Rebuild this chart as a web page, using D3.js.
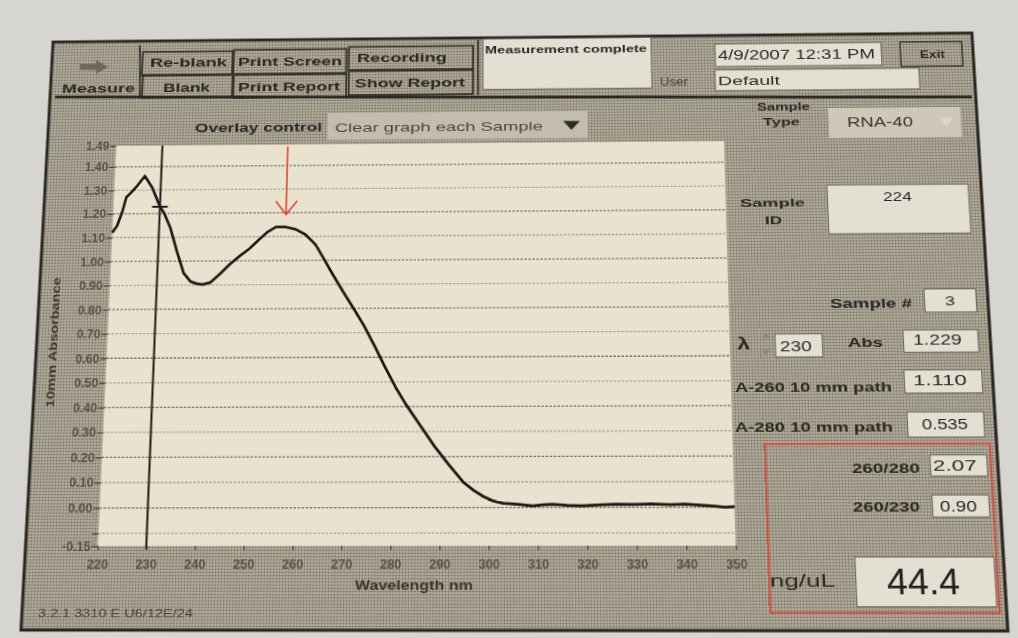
<!DOCTYPE html>
<html>
<head>
<meta charset="utf-8">
<script src="https://cdn.jsdelivr.net/npm/d3@7"></script>
<style>
body { margin: 0; background: #d6d5d0; overflow: hidden; }
svg { position: absolute; left: 0; top: 0; transform-origin: 0 0; }
text { font-family: "Liberation Sans", Arial, sans-serif; }
</style>
</head>
<body>
<script>
var w = 1018;
var h = 638;

// spectrum as drawn on the printout (nm, 10 mm absorbance)
var wavelengths = [220, 221, 222, 222.7, 223.7, 225, 226.5, 228.2, 230, 231,
  232.4, 234, 235.6, 237.1, 238.5, 239.7, 241.3, 243.3, 245.3, 247.4,
  249.4, 251.5, 253.2, 254.9, 257, 259.1, 261.2, 263.4, 264.9, 267.2,
  269.4, 271.7, 273.9, 276.2, 278.4, 280.7, 282.9, 285.9, 288.9, 291.8,
  294.8, 297, 299, 301, 303, 306, 309, 311, 313, 316,
  319, 322, 326, 330, 333, 337, 340, 343, 346, 348, 350];
var absorbance = [1.12, 1.15, 1.21, 1.27, 1.29, 1.32, 1.36, 1.31, 1.23, 1.20,
  1.14, 1.04, 0.95, 0.915, 0.905, 0.902, 0.91, 0.945, 0.985, 1.02,
  1.05, 1.09, 1.12, 1.14, 1.14, 1.13, 1.108, 1.066, 1.017, 0.94,
  0.87, 0.80, 0.73, 0.646, 0.562, 0.478, 0.408, 0.324, 0.240, 0.169,
  0.099, 0.066, 0.042, 0.025, 0.016, 0.012, 0.006, 0.010, 0.012, 0.008,
  0.006, 0.009, 0.012, 0.011, 0.013, 0.010, 0.012, 0.008, 0.004, 0.0, 0.002];

var xTicks = [220, 230, 240, 250, 260, 270, 280, 290, 300, 310, 320, 330, 340, 350];
var yTicks = [1.49, 1.40, 1.30, 1.20, 1.10, 1.00, 0.90, 0.80, 0.70, 0.60, 0.50,
  0.40, 0.30, 0.20, 0.10, 0.00, -0.10, -0.15];
var yTickLabels = ["1.49", "1.40", "1.30", "1.20", "1.10", "1.00", "0.90", "0.80",
  "0.70", "0.60", "0.50", "0.40", "0.30", "0.20", "0.10", "0.00", "", "-0.15"];
var gridValues = [1.40, 1.30, 1.20, 1.10, 1.00, 0.90, 0.80, 0.70, 0.60, 0.50,
  0.40, 0.30, 0.20, 0.10, 0.00, -0.10];

// readouts shown on the screen
var cursorNm = 230;
var cursorAbs = 1.229;
var peakNm = 257;
var sampleId = "224";
var sampleNo = "3";
var a260 = "1.110";
var a280 = "0.535";
var ratio260280 = "2.07";
var ratio260230 = "0.90";
var concentration = "44.4";

// the printout was photographed at an angle: draw it flat, then warp it
// onto the quadrilateral seen in the photo
var flat = [[38, 38], [990, 38], [990, 632], [38, 632]];
var seen = [[53, 42], [972, 33], [1008, 631], [21, 630]];

function solveH(src, dst) {
  var A = [];
  for (var i = 0; i < 4; i++) {
    var x = src[i][0], y = src[i][1], u = dst[i][0], v = dst[i][1];
    A.push([x, y, 1, 0, 0, 0, -u * x, -u * y, u]);
    A.push([0, 0, 0, x, y, 1, -v * x, -v * y, v]);
  }
  for (var c = 0; c < 8; c++) {
    var p = c;
    for (var r = c + 1; r < 8; r++) if (Math.abs(A[r][c]) > Math.abs(A[p][c])) p = r;
    var t = A[c]; A[c] = A[p]; A[p] = t;
    for (var r2 = 0; r2 < 8; r2++) {
      if (r2 == c) continue;
      var f = A[r2][c] / A[c][c];
      for (var k = c; k < 9; k++) A[r2][k] -= f * A[c][k];
    }
  }
  var q = A.map(function(row, i) { return row[8] / row[i]; });
  return [[q[0], q[1], q[2]], [q[3], q[4], q[5]], [q[6], q[7], 1]];
}

var H = solveH(flat, seen);
var Hinv = solveH(seen, flat);

// photo position -> flat drawing position
function U(x, y) {
  var m = Hinv, d = m[2][0] * x + m[2][1] * y + m[2][2];
  return [(m[0][0] * x + m[0][1] * y + m[0][2]) / d, (m[1][0] * x + m[1][1] * y + m[1][2]) / d];
}

var svg = d3.select("body").append("svg")
  .attr("width", w).attr("height", h)
  .style("transform", "matrix3d(" + [H[0][0], H[1][0], 0, H[2][0], H[0][1], H[1][1], 0, H[2][1],
    0, 0, 1, 0, H[0][2], H[1][2], 0, H[2][2]].join(",") + ")");

var defs = svg.append("defs");
var pat = defs.append("pattern").attr("id", "ht")
  .attr("width", 3).attr("height", 3).attr("patternUnits", "userSpaceOnUse");
pat.append("rect").attr("width", 3).attr("height", 3).attr("fill", "#b7b1a1");
pat.append("circle").attr("cx", 1.5).attr("cy", 1.5).attr("r", 1.05).attr("fill", "#767062");

// paper and the screen frame
svg.append("rect").attr("x", -60).attr("y", -60).attr("width", w + 120).attr("height", h + 120)
  .attr("fill", "#d6d5d0");
svg.append("rect").attr("x", 38).attr("y", 38).attr("width", 952).attr("height", 594)
  .attr("fill", "url(#ht)").attr("stroke", "#2a2622").attr("stroke-width", 3);

function box(x0, y0, x1, y1, fill, stroke, sw) {
  var a = U(x0, y0), b = U(x1, y1);
  return svg.append("rect")
    .attr("x", a[0]).attr("y", a[1])
    .attr("width", b[0] - a[0]).attr("height", b[1] - a[1])
    .attr("fill", fill || "none")
    .attr("stroke", stroke || "none")
    .attr("stroke-width", sw || 1);
}

function label(str, x0, x1, y, size, weight, fill) {
  var a = U(x0, y), b = U(x1, y);
  return svg.append("text")
    .attr("x", (a[0] + b[0]) / 2).attr("y", (a[1] + b[1]) / 2)
    .attr("text-anchor", "middle").attr("dominant-baseline", "central")
    .attr("font-size", size).attr("font-weight", weight || "bold")
    .attr("textLength", b[0] - a[0]).attr("lengthAdjust", "spacingAndGlyphs")
    .style("fill", fill || "#2b2824")
    .text(str);
}

function hline(x0, x1, y, stroke, sw) {
  var a = U(x0, y), b = U(x1, y);
  svg.append("line").attr("x1", a[0]).attr("y1", a[1]).attr("x2", b[0]).attr("y2", b[1])
    .attr("stroke", stroke).attr("stroke-width", sw);
}

function vline(x, y0, y1, stroke, sw) {
  var a = U(x, y0), b = U(x, y1);
  svg.append("line").attr("x1", a[0]).attr("y1", a[1]).attr("x2", b[0]).attr("y2", b[1])
    .attr("stroke", stroke).attr("stroke-width", sw);
}

function poly(pts, fill) {
  svg.append("path")
    .attr("d", "M" + pts.map(function(p) { return U(p[0], p[1]).join(","); }).join("L") + "Z")
    .attr("fill", fill);
}

// toolbar
poly([[80, 64], [96, 64], [96, 60], [108, 67], [96, 74], [96, 70], [80, 70]], "#6e685b");
label("Measure", 62, 135, 89, 12);
vline(140, 45, 97, "#3a362f", 2);

var buttons = [
  ["Re-blank", 143, 52, 232, 75, 150, 227, 63],
  ["Blank", 143, 75, 232, 97, 163, 210, 88],
  ["Print Screen", 234, 50, 346, 74, 238, 342, 62],
  ["Print Report", 234, 74, 346, 97, 238, 340, 87],
  ["Recording", 349, 47, 473, 70, 357, 447, 58],
  ["Show Report", 349, 70, 473, 94, 355, 465, 83]
];
buttons.forEach(function(b) {
  box(b[1], b[2], b[3], b[4], "none", "#35312b", 1.8);
  label(b[0], b[5], b[6], b[7], 13);
});
vline(478, 40, 95, "#3a362f", 2);

box(483, 39, 652, 88, "#e3dfd3", "#6a655b", 1);
label("Measurement complete", 485, 647, 49, 11);
box(715, 44, 882, 65, "#e3dfd3", "#6a655b", 1);
label("4/9/2007  12:31 PM", 718, 875, 55, 14, "normal");
box(900, 42, 963, 66, "none", "#3a362f", 1.5);
label("Exit", 920, 945, 55, 10);
label("User", 660, 688, 82, 12, "normal", "#4a463e");
box(715, 70, 920, 89, "#e3dfd3", "#6a655b", 1);
label("Default", 718, 780, 81, 13, "normal");
hline(55, 972, 97, "#2a2622", 3);

// overlay + sample type
label("Overlay control", 195, 322, 128, 12);
box(328, 113, 588, 138, "#c2bdaf");
label("Clear graph each Sample", 335, 543, 127, 13, "normal", "#4d483f");
poly([[563, 121], [580, 121], [571.5, 130]], "#2f2b26");
label("Sample", 757, 810, 107, 10.5);
label("Type", 763, 800, 122, 10.5);
box(828, 108, 962, 137, "#cdc8ba");
label("RNA-40", 847, 913, 122, 14, "normal", "#3a362f");
poly([[940, 118], [953, 118], [946.5, 127]], "#dcd8cc");

// plot area
var pTL = U(112, 146), pTR = U(727, 141), pBL = U(102, 547), pBR = U(733, 545);
var plotLeft = (pTL[0] + pBL[0]) / 2, plotRight = (pTR[0] + pBR[0]) / 2;
var plotTop = (pTL[1] + pTR[1]) / 2, plotBottom = (pBL[1] + pBR[1]) / 2;

var x = d3.scaleLinear().domain([220, 350]).range([plotLeft, plotRight]);
var y = d3.scaleLinear().domain([-0.15, 1.49]).range([plotBottom, plotTop]);

svg.append("rect")
  .attr("x", x(220)).attr("y", y(1.49))
  .attr("width", x(350) - x(220)).attr("height", y(-0.15) - y(1.49))
  .attr("fill", "#e9e2cf");

svg.append("g").selectAll("line")
  .data(gridValues)
  .enter().append("line")
  .attr("x1", x(220)).attr("x2", x(350))
  .attr("y1", function(d) { return y(d); })
  .attr("y2", function(d) { return y(d); })
  .attr("stroke", "#5a554b")
  .attr("stroke-width", 1.3)
  .attr("stroke-dasharray", "2.5,1.5")
  .attr("opacity", function(d, i) { return i % 2 ? 0.45 : 0.8; });

var yAxis = svg.append("g")
  .attr("transform", "translate(" + x(220) + ",0)")
  .call(d3.axisLeft(y).tickValues(yTicks).tickSize(6).tickPadding(1)
    .tickFormat(function(d, i) { return yTickLabels[i]; }));
yAxis.select(".domain").remove();
yAxis.selectAll("line").attr("stroke", "#4a463e").attr("stroke-width", 1.3);
yAxis.selectAll("text").attr("font-size", 12.5).attr("font-weight", "bold")
  .attr("font-family", "Liberation Sans, Arial, sans-serif").style("fill", "#57534a");

var xAxis = svg.append("g")
  .attr("transform", "translate(0," + y(-0.15) + ")")
  .call(d3.axisBottom(x).tickValues(xTicks).tickSize(4).tickPadding(9)
    .tickFormat(d3.format("d")));
xAxis.select(".domain").remove();
xAxis.selectAll("line").attr("stroke", "#4a463e").attr("stroke-width", 1.3);
xAxis.selectAll("text").attr("font-size", 12.5).attr("font-weight", "bold")
  .attr("font-family", "Liberation Sans, Arial, sans-serif").style("fill", "#57534a");

var c = U(53, 342), ya = U(53, 277), yb = U(53, 407);
svg.append("text")
  .attr("transform", "translate(" + c[0] + "," + c[1] + ") rotate(-90)")
  .attr("text-anchor", "middle").attr("dominant-baseline", "central")
  .attr("font-size", 11.5).attr("font-weight", "bold")
  .attr("textLength", yb[1] - ya[1]).attr("lengthAdjust", "spacingAndGlyphs")
  .style("fill", "#3a362f")
  .text("10mm Absorbance");

label("Wavelength nm", 355, 473, 585, 12, "bold", "#3a362f");

// spectrum
var spectrum = wavelengths.map(function(d, i) { return [d, absorbance[i]]; });
svg.append("path")
  .datum(spectrum)
  .attr("d", d3.line().x(function(d) { return x(d[0]); }).y(function(d) { return y(d[1]); }))
  .attr("fill", "none")
  .attr("stroke", "#1c1815")
  .attr("stroke-width", 2.7)
  .attr("stroke-linejoin", "round");

// cursor at 230 nm
svg.append("line")
  .attr("x1", x(cursorNm)).attr("x2", x(cursorNm))
  .attr("y1", y(1.49)).attr("y2", y(-0.15) + 3)
  .attr("stroke", "#1e1a17").attr("stroke-width", 2);
svg.append("line")
  .attr("x1", x(cursorNm) - 8).attr("x2", x(cursorNm) + 8)
  .attr("y1", y(cursorAbs)).attr("y2", y(cursorAbs))
  .attr("stroke", "#1e1a17").attr("stroke-width", 2);

// red arrow drawn on the photo, pointing at the 260 peak
var ax = x(peakNm), atip = y(1.14) - 13;
svg.append("path")
  .attr("d", "M" + ax + "," + (y(1.49) + 2) + "V" + atip +
    "M" + (ax - 11) + "," + (atip - 14) + "L" + ax + "," + atip + "L" + (ax + 11) + "," + (atip - 14))
  .attr("fill", "none").attr("stroke", "#e8412f").attr("stroke-width", 1.6);

// right panel
label("Sample", 740, 805, 202, 11.5);
label("ID", 765, 782, 220, 11.5);
box(827, 185, 971, 233, "#e3dfd3", "#6a655b", 1);
label(sampleId, 883, 912, 197, 12, "normal");

label("Sample #", 830, 912, 303, 12);
box(924, 289, 977, 312, "#e3dfd3", "#6a655b", 1);
label(sampleNo, 945, 955, 301, 13, "normal");

label("\u03bb", 737, 750, 344, 16);
poly([[762, 338], [770, 338], [766, 333]], "#8c8678");
poly([[762, 350], [770, 350], [766, 355]], "#8c8678");
box(775, 334, 823, 357, "#e3dfd3", "#6a655b", 1);
label(String(cursorNm), 780, 812, 346, 14, "normal");
label("Abs", 848, 883, 343, 12);
box(903, 330, 979, 352, "#e3dfd3", "#6a655b", 1);
label(cursorAbs.toFixed(3), 913, 962, 340, 14, "normal");

label("A-260 10 mm path", 735, 892, 387, 12.5);
box(904, 370, 983, 393, "#e3dfd3", "#6a655b", 1);
label(a260, 913, 967, 380, 14, "normal");

label("A-280 10 mm path", 735, 893, 427, 12.5);
box(907, 412, 985, 437, "#e3dfd3", "#6a655b", 1);
label(a280, 922, 968, 424, 14, "normal");

label("260/280", 852, 920, 468, 12);
box(930, 455, 988, 476, "#e3dfd3", "#6a655b", 1);
label(ratio260280, 933, 977, 466, 14, "normal");

label("260/230", 853, 920, 507, 12);
box(932, 495, 990, 517, "#e3dfd3", "#6a655b", 1);
label(ratio260230, 940, 977, 506, 14, "normal");

label("ng/uL", 770, 835, 580, 17, "normal");
box(855, 557, 997, 607, "#e3dfd3", "#6a655b", 1);
label(concentration, 887, 960, 582, 35, "normal", "#23201c");

box(765, 444, 1000, 613, "none", "#e8412f", 1.6);

// version string at the bottom
label("3.2.1 3310 E U6/12E/24", 38, 193, 613, 10.5, "normal", "#48443c");
</script>
</body>
</html>
